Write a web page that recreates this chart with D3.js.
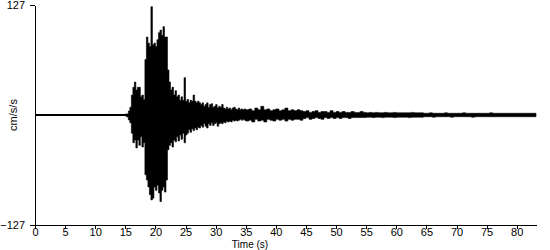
<!DOCTYPE html>
<html>
<head>
<meta charset="utf-8">
<script src="https://cdn.jsdelivr.net/npm/d3@7"></script>
<style>
  body { margin: 0; background: #fff; }
  svg { display: block; }
  .axis text { font-family: "Liberation Sans", Arial, sans-serif; font-size: 11px; fill: #000; }
  .axis path, .axis line { stroke: #000; shape-rendering: crispEdges; }
  .lbl { font-family: "Liberation Sans", Arial, sans-serif; font-size: 11px; fill: #000; }
</style>
</head>
<body>
<svg id="chart" width="550" height="250"></svg>
<script>
// time axis, seconds
var timeMax = 83.2
var timeTicks = d3.range(0, 81, 5)
var ampTicks = [-127, 127]

// strong motion part: starts at 15 s, one value every 0.25 s (cm/s/s)
var strongStart = 15, strongStep = 0.25
var strongUpper = [1.2,1.2,4.6,9,23,32,38,29,32,32,21,23,18,64,90,83,79,125,81,83,
  79,87,95,98,92,102,90,90,52,38,29,32,23,28,21,23,17,21,17,43,
  16,18,14,17,16,23,16,14,16,14,12,14,10,12,14,9,12,13,9,10,
  12,8,10,9,12,8,7,9,7,8,6,8,9,7,6,8,6,7,6,7]
var strongLower = [-1.2,-2.3,-5.8,-9,-21,-32,-29,-38,-29,-35,-25,-37,-32,-69,-75,-83,-92,-98,-96,-83,
  -87,-81,-90,-100,-87,-83,-89,-75,-40,-35,-32,-37,-29,-31,-25,-30,-23,-28,-21,-32,
  -23,-21,-17,-20,-16,-18,-15,-17,-14,-15,-12,-14,-10,-13,-15,-10,-12,-9,-12,-10,
  -9,-13,-10,-9,-10,-8,-9,-7,-8,-7,-8,-6,-7,-6,-7,-6,-5,-6,-5,-6]

// coda: starts at 35 s, one value every 0.5 s
var codaStart = 35, codaStep = 0.5
var codaUpper = [6,7,5,8,6,10,6,7,5,6,7,5,6,8,5,6,5,6,5,
  4,5,3,4,5,3,4,4,3,5,3,4,3,4,3,3,4,3,3,4,
  3,2.5,3,2.5,3,2.5,2.5,3,2.5,2.5,3,2.5,2.5,2.5,2.5,2.5,3,2.5,2.5,2.5,
  2,2,2.5,2,2,2,2,2.5,2,2,
  2,2,2,2.5,2,2,2,2,2,2,
  2,2,2.5,2,2,2,2,2,2,2,
  2,2,2,2,2,2,2]
var codaLower = [-7,-6,-8,-5,-7,-6,-8,-5,-6,-7,-5,-6,-5,-7,-5,-6,-5,-5,-6,
  -4,-3,-5,-4,-3,-4,-5,-3,-4,-3,-4,-3,-4,-3,-3,-4,-3,-3,-3,-3,
  -3,-2.5,-2.5,-3,-2.5,-2.5,-3,-2.5,-2.5,-2.5,-3,-2.5,-2.5,-2.5,-2.5,-3,-2.5,-2.5,-2.5,-2.5,
  -2,-2,-2,-2.5,-2,-2,-2,-2,-2,-2.5,
  -2,-2,-2,-2,-2,-2,-2.5,-2,-2,-2,
  -2,-2,-2,-2,-2,-2,-2,-2,-2,-2,
  -2,-2,-2,-2,-2,-2,-2]

var svg = d3.select('#chart')
var margin = {left: 35, right: 14, top: 5, bottom: 25}
var width = 550, height = 250

var x = d3.scaleLinear().domain([0, timeMax]).range([margin.left, width - margin.right])
var y = d3.scaleLinear().domain([-127, 127]).range([height - margin.bottom, margin.top])

var samples = []
strongUpper.forEach(function(v, i) {
    samples.push({t: strongStart + i*strongStep, hi: v, lo: strongLower[i]})
})
codaUpper.forEach(function(v, i) {
    samples.push({t: codaStart + i*codaStep, hi: v, lo: codaLower[i]})
})
// close the last step at the end of the record
var last = samples[samples.length-1]
samples.push({t: timeMax, hi: last.hi, lo: last.lo})

// baseline trace before and after the event
svg.append('line')
    .attr('x1', x(0)).attr('x2', x(timeMax))
    .attr('y1', y(0)).attr('y2', y(0))
    .attr('stroke', '#000')
    .attr('stroke-width', 2)

var area = d3.area()
    .defined(function(d) { return d.hi != null && d.lo != null })
    .x(function(d) { return x(d.t) })
    .y0(function(d) { return y(d.lo) })
    .y1(function(d) { return y(d.hi) })
    .curve(d3.curveStepAfter)

svg.append('path')
    .datum(samples)
    .attr('d', area)
    .attr('fill', '#000')
    .attr('stroke', '#000')
    .attr('stroke-width', 0.6)

svg.append('g')
    .attr('class', 'axis')
    .attr('transform', 'translate(0,' + (height - margin.bottom) + ')')
    .call(d3.axisBottom(x).tickValues(timeTicks).tickSize(4).tickSizeOuter(0).tickPadding(-1))

svg.append('g')
    .attr('class', 'axis')
    .attr('transform', 'translate(' + margin.left + ',0)')
    .call(d3.axisLeft(y).tickValues(ampTicks).tickSize(5).tickSizeOuter(0).tickPadding(5))

svg.append('text')
    .attr('class', 'lbl')
    .attr('x', 250).attr('y', 247.8)
    .attr('text-anchor', 'middle')
    .style('font-size', '10px')
    .text('Time (s)')

svg.append('text')
    .attr('class', 'lbl')
    .attr('transform', 'translate(17,' + y(0) + ') rotate(-90)')
    .attr('text-anchor', 'middle')
    .text('cm/s/s')
</script>
</body>
</html>
